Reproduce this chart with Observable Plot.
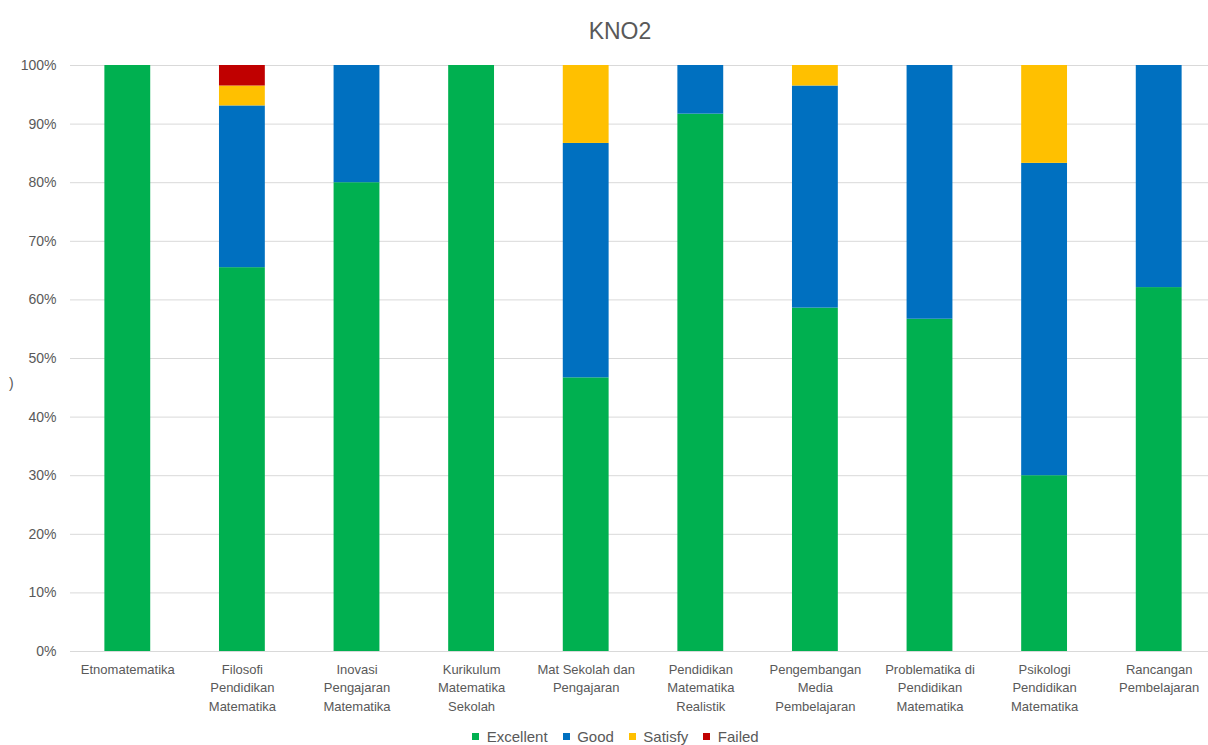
<!DOCTYPE html>
<html>
<head>
<meta charset="utf-8">
<script src="https://cdn.jsdelivr.net/npm/d3@7"></script>
<script src="https://cdn.jsdelivr.net/npm/@observablehq/plot@0.6"></script>
<style>
  html, body { margin: 0; padding: 0; background: #fff; }
  body { width: 1208px; height: 745px; position: relative; overflow: hidden; font-family: "Liberation Sans", Arial, sans-serif; }
  #title { position: absolute; top: 17px; left: 0; width: 1240px; text-align: center; font-size: 23px; color: #595959; line-height: 28px; }
  #chart { position: absolute; top: 45px; left: 0; }
  #ylab { position: absolute; left: 9px; top: 375px; font-size: 14px; color: #595959; z-index: 5; }
  #legend { position: absolute; top: 720px; left: 0; width: 1246px; display: flex; justify-content: center; }
</style>
</head>
<body>
<div id="title">KNO2</div>
<div id="chart"></div>
<div id="ylab">)</div>
<div id="legend"></div>
<script>
const categories = [
  "Etnomatematika",
  "Filosofi Pendidikan Matematika",
  "Inovasi Pengajaran Matematika",
  "Kurikulum Matematika Sekolah",
  "Mat Sekolah dan Pengajaran",
  "Pendidikan Matematika Realistik",
  "Pengembangan Media Pembelajaran",
  "Problematika di Pendidikan Matematika",
  "Psikologi Pendidikan Matematika",
  "Rancangan Pembelajaran"
];
const tickLabels = [
  "Etnomatematika",
  "Filosofi\nPendidikan\nMatematika",
  "Inovasi\nPengajaran\nMatematika",
  "Kurikulum\nMatematika\nSekolah",
  "Mat Sekolah dan\nPengajaran",
  "Pendidikan\nMatematika\nRealistik",
  "Pengembangan\nMedia\nPembelajaran",
  "Problematika di\nPendidikan\nMatematika",
  "Psikologi\nPendidikan\nMatematika",
  "Rancangan\nPembelajaran"
];
const seriesNames = ["Excellent", "Good", "Satisfy", "Failed"];
const seriesColors = ["#00B050", "#0070C0", "#FFC000", "#C00000"];
const excellent = [1.000, 0.655, 0.800, 1.000, 0.467, 0.917, 0.586, 0.567, 0.300, 0.621];
const good      = [0.000, 0.276, 0.200, 0.000, 0.400, 0.083, 0.379, 0.433, 0.533, 0.379];
const satisfy   = [0.000, 0.034, 0.000, 0.000, 0.133, 0.000, 0.035, 0.000, 0.167, 0.000];
const failed    = [0.000, 0.035, 0.000, 0.000, 0.000, 0.000, 0.000, 0.000, 0.000, 0.000];
const yTicks = [0, 0.1, 0.2, 0.3, 0.4, 0.5, 0.6, 0.7, 0.8, 0.9, 1.0];

const seriesValues = [excellent, good, satisfy, failed];
const rows = [];
categories.forEach((c, i) => {
  seriesNames.forEach((s, j) => {
    rows.push({category: c, series: s, value: seriesValues[j][i]});
  });
});
const labelOf = new Map(categories.map((c, i) => [c, tickLabels[i]]));

const chart = Plot.plot({
  width: 1208,
  height: 676,
  marginTop: 20,
  marginBottom: 70,
  marginLeft: 70,
  marginRight: 0,
  style: {fontFamily: "'Liberation Sans', Arial, sans-serif", color: "#595959", background: "#fff"},
  x: {domain: categories, range: [70, 1216], paddingInner: 0.6, paddingOuter: 0.3, round: false, label: null},
  y: {domain: [0, 1], label: null},
  color: {domain: seriesNames, range: seriesColors},
  marks: [
    Plot.gridY(yTicks, {stroke: "#d9d9d9", strokeOpacity: 1, strokeWidth: 1}),
    Plot.barY(rows, {x: "category", y: "value", fill: "series", order: seriesNames}),
    Plot.axisY(yTicks, {tickFormat: d3.format(".0%"), tickSize: 0, tickPadding: 14, fontSize: 14, fill: "#595959", label: null}),
    Plot.axisX({tickFormat: d => labelOf.get(d), tickSize: 0, tickPadding: 9, fontSize: 13, lineHeight: 1.42, fill: "#595959", label: null, textOverflow: null, lineWidth: Infinity})
  ]
});
document.getElementById("chart").appendChild(chart);

const legend = Plot.legend({
  color: {type: "ordinal", domain: seriesNames, range: seriesColors},
  swatchSize: 7,
  style: {fontFamily: "'Liberation Sans', Arial, sans-serif", fontSize: "15px", color: "#595959", background: "transparent"}
});
document.getElementById("legend").appendChild(legend);
</script>
</body>
</html>
